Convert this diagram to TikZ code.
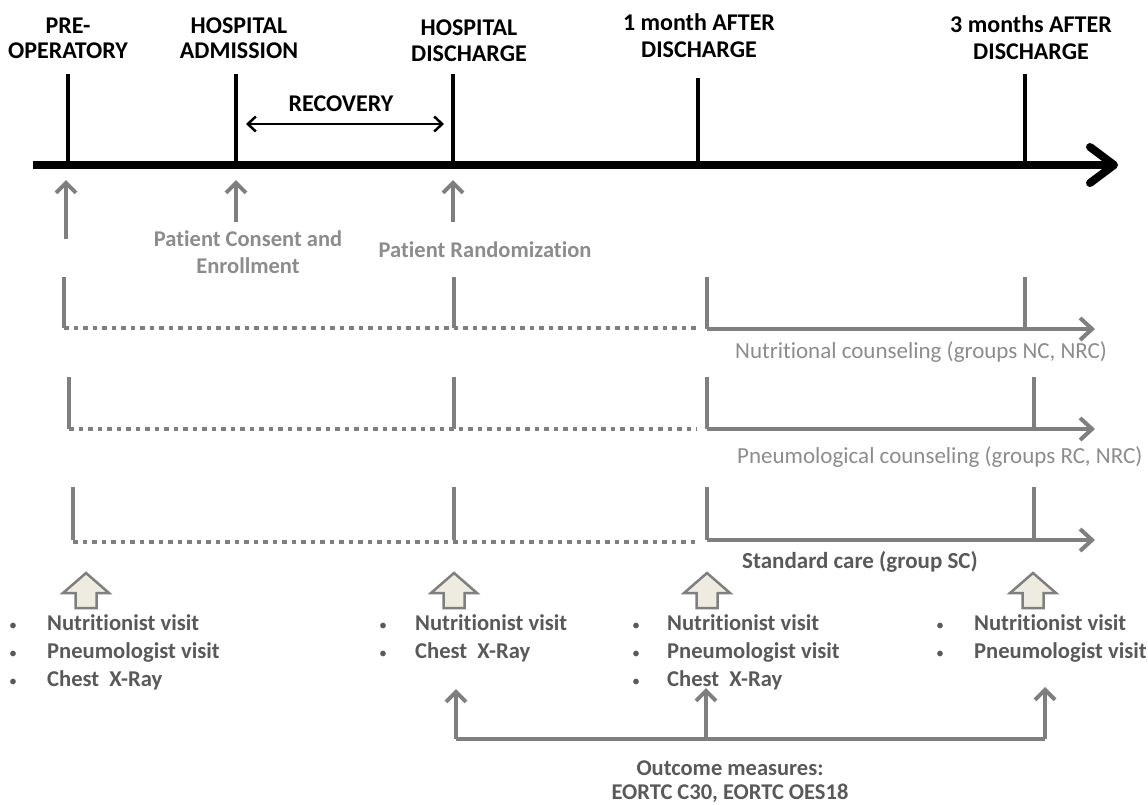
\documentclass[tikz,border=0pt]{standalone}
\usepackage{fontspec}
\setmainfont{Carlito}[Ligatures=NoCommon]
\usetikzlibrary{arrows.meta}
\definecolor{lg}{HTML}{7F7F7F}
\definecolor{tg}{HTML}{8C8C8C}
\definecolor{dg}{HTML}{595959}
\definecolor{cream}{HTML}{EEECE1}
\begin{document}
\begin{tikzpicture}[x=1pt,y=-1pt,
  lbl/.style={font=\fontsize{24}{27}\selectfont\bfseries, anchor=base, inner sep=0pt, text=black},
  graylbl/.style={font=\fontsize{22.5}{25}\selectfont\bfseries, anchor=base, inner sep=0pt, text=tg},
  rowlbl/.style={font=\fontsize{23}{25}\selectfont, anchor=base west, inner sep=0pt, text=tg},
  rowlblb/.style={font=\fontsize{23}{25}\selectfont\bfseries, anchor=base west, inner sep=0pt, text=dg},
  itm/.style={font=\fontsize{22.6}{25}\selectfont\bfseries, anchor=base west, inner sep=0pt, text=dg},
  bul/.style={font=\fontsize{16}{20}\selectfont, anchor=base, inner sep=0pt, text=dg},
  outlbl/.style={font=\fontsize{22.5}{25}\selectfont\bfseries, anchor=base, inner sep=0pt, text=dg},
  tickline/.style={line width=4pt, black},
  axisline/.style={line width=8pt, black, -{Straight Barb[length=24pt,width=36pt,line cap=round,line join=round]}},
  recarrow/.style={line width=2.5pt, black, {Straight Barb[length=8pt,width=15pt]}-{Straight Barb[length=8pt,width=15pt]}},
  uparrow/.style={line width=4pt, lg, -{Straight Barb[length=10pt,width=20pt]}},
  grayline/.style={line width=4pt, lg},
  dotline/.style={line width=4pt, lg, dash pattern=on 4.5pt off 5pt},
  rowarrow/.style={line width=4pt, lg, -{Straight Barb[length=12pt,width=22pt]}},
  blockarr/.style={line width=2.5pt, draw=lg, fill=cream, line join=miter}
]
\useasboundingbox (0,0) rectangle (1148,804);

% ---------------- main time axis ----------------
\coordinate (ax0) at (33,165);
\coordinate (ax1) at (1118,165);
\draw[axisline] (ax0) -- (ax1);

% ticks
\coordinate (t1) at (68,74);   \coordinate (b1) at (68,165);
\coordinate (t2) at (236,74);  \coordinate (b2) at (236,165);
\coordinate (t3) at (453,74);  \coordinate (b3) at (453,165);
\coordinate (t4) at (698,78);  \coordinate (b4) at (698,165);
\coordinate (t5) at (1025,74); \coordinate (b5) at (1025,165);
\foreach \i in {1,...,5} \draw[tickline] (t\i) -- (b\i);

% top labels
\node[lbl] (preA) at (68,33) {PRE-};
\node[lbl] (preB) at (68,58) {OPERATORY};
\node[lbl] (admA) at (239,33) {HOSPITAL};
\node[lbl] (admB) at (239,58) {ADMISSION};
\node[lbl] (disA) at (469,35) {HOSPITAL};
\node[lbl] (disB) at (469,61) {DISCHARGE};
\node[lbl] (m1A) at (699,30) {1 month AFTER};
\node[lbl] (m1B) at (699,57) {DISCHARGE};
\node[lbl] (m3A) at (1031,32) {3 months AFTER};
\node[lbl] (m3B) at (1031,59) {DISCHARGE};

% recovery
\node[lbl] (rec) at (341,111) {RECOVERY};
\coordinate (recL) at (246,124);
\coordinate (recR) at (444,124);
\draw[recarrow] (recL) -- (recR);

% gray up arrows under axis
\coordinate (g1a) at (66,239);  \coordinate (g1b) at (66,180);
\coordinate (g2a) at (236,222); \coordinate (g2b) at (236,180);
\coordinate (g3a) at (453,222); \coordinate (g3b) at (453,180);
\draw[uparrow] (g1a) -- (g1b);
\draw[uparrow] (g2a) -- (g2b);
\draw[uparrow] (g3a) -- (g3b);
\node[graylbl] (consA) at (248,246) {Patient Consent and};
\node[graylbl] (consB) at (248,273) {Enrollment};
\node[graylbl] (rand) at (485,257) {Patient Randomization};

% ---------------- row 1 : nutritional counseling ----------------
\coordinate (r1a) at (64,277);   \coordinate (r1b) at (64,328);
\coordinate (r1c) at (454,277);  \coordinate (r1d) at (454,328);
\coordinate (r1e) at (697,328);
\coordinate (r1f) at (707,277);  \coordinate (r1g) at (707,329);
\coordinate (r1h) at (1095,329);
\coordinate (r1i) at (1025,277); \coordinate (r1j) at (1025,329);
\draw[grayline] (r1a) -- (r1b);
\draw[dotline] (r1b) -- (r1e);
\draw[grayline] (r1c) -- (r1d);
\draw[grayline] (r1f) -- (r1g);
\draw[rowarrow] (r1g) -- (r1h);
\draw[grayline] (r1i) -- (r1j);
\node[rowlbl] (nc) at (735,358) {Nutritional counseling (groups NC, NRC)};

% ---------------- row 2 : pneumological counseling ----------------
\coordinate (r2a) at (69,377);   \coordinate (r2b) at (69,429);
\coordinate (r2c) at (454,377);  \coordinate (r2d) at (454,429);
\coordinate (r2e) at (697,429);
\coordinate (r2f) at (707,377);  \coordinate (r2g) at (707,429);
\coordinate (r2h) at (1095,429);
\coordinate (r2i) at (1034,377); \coordinate (r2j) at (1034,429);
\draw[grayline] (r2a) -- (r2b);
\draw[dotline] (r2b) -- (r2e);
\draw[grayline] (r2c) -- (r2d);
\draw[grayline] (r2f) -- (r2g);
\draw[rowarrow] (r2g) -- (r2h);
\draw[grayline] (r2i) -- (r2j);
\node[rowlbl] (pc) at (737,463) {Pneumological counseling (groups RC, NRC)};

% ---------------- row 3 : standard care ----------------
\coordinate (r3a) at (73,487);   \coordinate (r3b) at (73,540);
\coordinate (r3k) at (73,542);
\coordinate (r3c) at (454,487);  \coordinate (r3d) at (454,540);
\coordinate (r3e) at (697,542);
\coordinate (r3f) at (707,487);  \coordinate (r3g) at (707,540);
\coordinate (r3h) at (1095,540);
\coordinate (r3i) at (1034,487); \coordinate (r3j) at (1034,540);
\draw[grayline] (r3a) -- (r3b);
\draw[dotline] (r3k) -- (r3e);
\draw[grayline] (r3c) -- (r3d);
\draw[grayline] (r3f) -- (r3g);
\draw[rowarrow] (r3g) -- (r3h);
\draw[grayline] (r3i) -- (r3j);
\node[rowlblb] (sc) at (742,568) {Standard care (group SC)};

% ---------------- block arrows ----------------
\foreach \n/\x in {ba1/86, ba2/454, ba3/707, ba4/1033} {
  \coordinate (\n) at (\x,573);
  \filldraw[blockarr] (\n) -- ++(23,20) -- ++(-12.5,0) -- ++(0,15) -- ++(-21,0) -- ++(0,-15) -- ++(-12.5,0) -- cycle;
}

% ---------------- bullet lists ----------------
\node[bul] (d11) at (13,630) {•};
\node[bul] (d12) at (13,658) {•};
\node[bul] (d13) at (13,686) {•};
\node[itm] (i11) at (47,630) {Nutritionist visit};
\node[itm] (i12) at (47,658) {Pneumologist visit};
\node[itm] (i13) at (47,686) {Chest\ \ X-Ray};

\node[bul] (d21) at (383,630) {•};
\node[bul] (d22) at (383,658) {•};
\node[itm] (i21) at (415,630) {Nutritionist visit};
\node[itm] (i22) at (415,658) {Chest\ \ X-Ray};

\node[bul] (d31) at (636,630) {•};
\node[bul] (d32) at (636,658) {•};
\node[bul] (d33) at (636,686) {•};
\node[itm] (i31) at (667,630) {Nutritionist visit};
\node[itm] (i32) at (667,658) {Pneumologist visit};
\node[itm] (i33) at (667,686) {Chest\ \ X-Ray};

\node[bul] (d41) at (940,630) {•};
\node[bul] (d42) at (940,658) {•};
\node[itm] (i41) at (974,630) {Nutritionist visit};
\node[itm] (i42) at (974,658) {Pneumologist visit};

% ---------------- outcome measures ----------------
\coordinate (o1) at (456,739); \coordinate (o1t) at (456,689);
\coordinate (o2) at (706,739); \coordinate (o2t) at (706,688);
\coordinate (o3) at (1045,739); \coordinate (o3t) at (1045,687);
\draw[grayline] (o1) -- (o3);
\draw[uparrow] (o1) -- (o1t);
\draw[uparrow] (o2) -- (o2t);
\draw[uparrow] (o3) -- (o3t);
\node[outlbl] (outA) at (730,775) {Outcome measures:};
\node[outlbl] (outB) at (730,799) {EORTC C30, EORTC OES18};
\end{tikzpicture}
\end{document}
